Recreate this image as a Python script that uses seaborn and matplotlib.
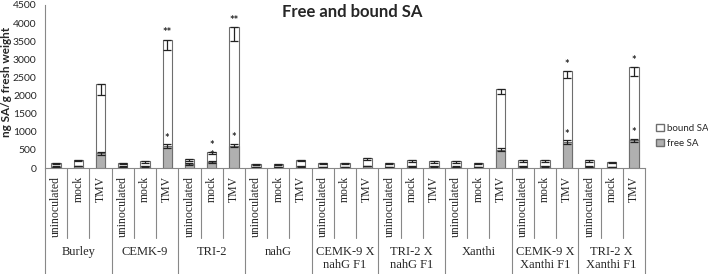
import numpy as np
import pandas as pd
import matplotlib
matplotlib.use("Agg")
import matplotlib.pyplot as plt
import seaborn as sns
from matplotlib.patches import Patch
from matplotlib.transforms import blended_transform_factory

sns.set_style("white")
plt.rcParams['font.family'] = ['Lato', 'DejaVu Sans']

# datos (ng SA/g peso fresco)
genotypes = ['Burley', 'CEMK-9', 'TRI-2', 'nahG', 'CEMK-9 X\nnahG F1',
             'TRI-2 X\nnahG F1', 'Xanthi', 'CEMK-9 X\nXanthi F1', 'TRI-2 X\nXanthi F1']
treatments = ['uninoculated', 'mock', 'TMV']

free_sa = [40, 50, 410,   40, 45, 600,   100, 165, 620,
           30, 30, 45,    35, 35, 50,    35, 45, 45,
           40, 35, 510,   45, 45, 715,   40, 35, 760]
bound_sa = [105, 180, 1920,   105, 145, 2940,   155, 270, 3260,
            90, 90, 185,      110, 110, 235,    110, 165, 145,
            150, 110, 1680,   165, 165, 1960,   170, 130, 2020]
free_err = [8, 8, 40,   8, 8, 50,   25, 30, 50,
            6, 6, 8,    6, 6, 8,    6, 8, 8,
            8, 6, 30,   8, 8, 45,   8, 6, 45]
bound_err = [40, 50, 310,   35, 40, 290,   60, 60, 380,
             30, 30, 50,    35, 35, 55,    35, 45, 45,
             40, 35, 150,   45, 45, 200,   45, 40, 250]
free_stars = ['', '', '',  '', '', '*',  '', '*', '*',
              '', '', '',  '', '', '',   '', '', '',
              '', '', '',  '', '', '*',  '', '', '*']
total_stars = ['', '', '',  '', '', '**',  '', '*', '**',
               '', '', '',  '', '', '',    '', '', '',
               '', '', '',  '', '', '*',   '', '', '*']

rows = []
for i, g in enumerate(genotypes):
    for j, t in enumerate(treatments):
        k = i * 3 + j
        rows.append({'id': f'{g}|{t}', 'genotype': g, 'treatment': t,
                     'free': free_sa[k], 'total': free_sa[k] + bound_sa[k]})
df = pd.DataFrame(rows)

fig = plt.figure(figsize=(7.08, 2.74), dpi=100)
W, H = 708, 274
ax = fig.add_axes([45 / W, (H - 168) / H, 600 / W, 163 / H])

edge = '#6e6e6e'
sns.barplot(data=df, x='id', y='total', color='white', edgecolor=edge,
            linewidth=0.8, width=0.42, saturation=1, ax=ax, errorbar=None)
sns.barplot(data=df, x='id', y='free', color='#b0b0b0', edgecolor=edge,
            linewidth=0.8, width=0.42, saturation=1, ax=ax, errorbar=None)

x = np.arange(len(df))
tot = df['total'].values
ax.errorbar(x, tot, yerr=[bound_err, np.zeros(len(x))], fmt='none',
            ecolor='#222222', elinewidth=0.9, capsize=3, capthick=0.9)
ax.errorbar(x, df['free'].values, yerr=free_err, fmt='none',
            ecolor='#222222', elinewidth=0.9, capsize=3, capthick=0.9)

for k in range(len(x)):
    if total_stars[k]:
        ax.text(x[k], tot[k] + 40, total_stars[k], ha='center', va='bottom',
                fontsize=8, fontweight='bold', color='#222222')
    if free_stars[k]:
        ax.text(x[k], free_sa[k] + free_err[k] + 10, free_stars[k],
                ha='center', va='bottom', fontsize=8, fontweight='bold',
                color='#222222')

ax.set_ylim(0, 4500)
ax.set_xlim(-0.5, len(x) - 0.5)
ax.set_yticks(np.arange(0, 4501, 500))
ax.tick_params(axis='y', labelsize=7.5, length=3, color='#888888', pad=3)
ax.set_ylabel('ng SA/g fresh weight', fontsize=8.5, fontweight='bold')
ax.yaxis.set_label_coords(-33 / 600, 0.53)
ax.set_xlabel('')
ax.set_xticks(x)
ax.set_xticklabels(df['treatment'], rotation=90, family='Liberation Serif',
                   fontsize=8.5, va='top')
ax.tick_params(axis='x', length=0, pad=6)
for s in ['top', 'right']:
    ax.spines[s].set_visible(False)
for s in ['left', 'bottom']:
    ax.spines[s].set_color('#888888')
    ax.spines[s].set_linewidth(0.8)

# líneas separadoras de categorías
trans = blended_transform_factory(ax.transData, ax.transAxes)
ax_h = 163
for b in range(len(x) + 1):
    xb = b - 0.5
    if b % 3 == 0:
        y_end = -(274 - 168) / ax_h
    else:
        y_end = -(238 - 168) / ax_h
    ax.plot([xb, xb], [0, y_end], transform=trans, clip_on=False,
            color='#888888', lw=0.8)

for i, g in enumerate(genotypes):
    ax.text(i * 3 + 1, -(246 - 168) / ax_h, g, transform=trans, ha='center',
            va='top', family='Liberation Serif', fontsize=9, linespacing=1.1)

fig.text(352 / W, 1 - 12 / H, 'Free and bound SA', ha='center', va='center',
         fontsize=12, fontweight='bold')

handles = [Patch(facecolor='white', edgecolor=edge, label='bound SA'),
           Patch(facecolor='#b0b0b0', edgecolor=edge, label='free SA')]
fig.legend(handles=handles, loc='center left', bbox_to_anchor=(651 / W, 1 - 136 / H),
           frameon=False, fontsize=7, handlelength=0.8, handleheight=0.8,
           handletextpad=0.3, labelspacing=0.6, borderpad=0)

fig.savefig('out.png', dpi=100)
